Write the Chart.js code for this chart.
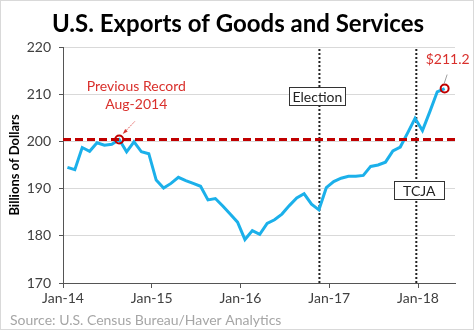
<!DOCTYPE html>
<html>
<head>
<meta charset="utf-8">
<script src="https://cdn.jsdelivr.net/npm/chart.js@4/dist/chart.umd.min.js"></script>
<style>
  body { margin: 0; background: #fff; }
  #wrap { width: 474px; height: 330px; }
</style>
</head>
<body>
<div id="wrap"><canvas id="chart" width="474" height="330"></canvas></div>
<script>
// monthly exports, Jan-2014 .. Apr-2018 (billions of dollars)
var exportValues = [
  194.5, 194.0, 198.7, 197.9, 199.7, 199.2, 199.4, 200.4, 197.8, 199.9, 197.8, 197.4,
  191.8, 190.1, 191.1, 192.4, 191.7, 191.1, 190.5, 187.6, 187.9, 186.3, 184.6, 182.9,
  179.2, 181.1, 180.3, 182.6, 183.4, 184.6, 186.4, 188.0, 188.9, 186.7, 185.5, 190.2,
  191.5, 192.2, 192.6, 192.6, 192.8, 194.7, 195.0, 195.6, 198.0, 198.8, 201.8, 204.9,
  202.3, 206.3, 210.5, 211.2
];
var tickLabels = ['Jan-14', 'Jan-15', 'Jan-16', 'Jan-17', 'Jan-18'];
var tickMonths = [0, 12, 24, 36, 48];
var recordIndex = 7;          // Aug-2014
var recordValue = 200.4;
var lastIndex = exportValues.length - 1;
var eventLabels = ['Election', 'TCJA'];
var eventMonths = [34.67, 47.77];

var FONT = 'Lato, "Open Sans", sans-serif';
var pointDay = 0.6; // points sit part-way through each month

var linePoints = exportValues.map(function (v, i) { return { x: i + pointDay, y: v }; });

function vLine(m) {
  return {
    data: [{ x: m, y: 170 }, { x: m, y: 220 }],
    borderColor: '#222', borderWidth: 2, borderDash: [2, 2],
    pointRadius: 0, order: 3
  };
}

// draws titles, source, labels and boxes
var textPlugin = {
  id: 'texts',
  afterDatasetsDraw: function (chart) {
    var ctx = chart.ctx;
    var xs = chart.scales.x, ys = chart.scales.y;
    ctx.save();

    // record label + arrow
    var rx = xs.getPixelForValue(recordIndex + pointDay);
    var ry = ys.getPixelForValue(recordValue);
    ctx.fillStyle = '#d9302c';
    ctx.font = '14px ' + FONT;
    ctx.textAlign = 'center';
    ctx.textBaseline = 'middle';
    ctx.fillText('Previous Record', rx + 17, ry - 53);
    ctx.fillText('Aug-2014', rx + 17, ry - 35);
    ctx.strokeStyle = '#d9302c';
    ctx.lineWidth = 0.8;
    ctx.setLineDash([1.5, 1]);
    ctx.beginPath();
    ctx.moveTo(rx + 15.5, ry - 18);
    ctx.lineTo(rx + 5, ry - 7);
    ctx.stroke();
    ctx.setLineDash([]);
    ctx.beginPath();
    ctx.moveTo(rx + 3.5, ry - 5.5);
    ctx.lineTo(rx + 8.5, ry - 8);
    ctx.lineTo(rx + 6, ry - 10.5);
    ctx.closePath();
    ctx.fill();

    // last value label
    var lx = xs.getPixelForValue(lastIndex + pointDay);
    var ly = ys.getPixelForValue(exportValues[lastIndex]);
    ctx.fillText('$' + exportValues[lastIndex].toFixed(1), lx + 3, ly - 29);
    ctx.strokeStyle = '#a0a0a0';
    ctx.lineWidth = 1;
    ctx.beginPath();
    ctx.moveTo(lx + 2.5, ly - 14);
    ctx.lineTo(lx - 0.5, ly - 5);
    ctx.stroke();

    // event boxes
    var boxY = [96, 190];
    var boxW = [56, 50];
    var boxDx = [-2, 3];
    ctx.font = '14px ' + FONT;
    for (var k = 0; k < eventLabels.length; k++) {
      var ex = xs.getPixelForValue(eventMonths[k]) + boxDx[k];
      ctx.fillStyle = '#fff';
      ctx.fillRect(ex - boxW[k] / 2, boxY[k] - 9, boxW[k], 18);
      ctx.strokeStyle = '#333';
      ctx.lineWidth = 1;
      ctx.strokeRect(Math.round(ex - boxW[k] / 2) + 0.5, boxY[k] - 8.5, boxW[k], 18);
      ctx.fillStyle = '#222';
      ctx.fillText(eventLabels[k], ex, boxY[k] + 1);
    }
    ctx.restore();
  },
  afterDraw: function (chart) {
    var ctx = chart.ctx;
    ctx.save();
    ctx.fillStyle = '#000';
    ctx.font = 'bold 24px ' + FONT;
    ctx.textAlign = 'center';
    ctx.textBaseline = 'middle';
    ctx.fillText('U.S. Exports of Goods and Services', 238, 24);
    ctx.fillStyle = '#a6a6a6';
    ctx.font = '14px ' + FONT;
    ctx.textAlign = 'left';
    ctx.fillText('Source: U.S. Census Bureau/Haver Analytics', 10, 320);
    ctx.strokeStyle = '#d9d9d9';
    ctx.lineWidth = 1;
    ctx.strokeRect(0.5, 0.5, 473, 329);
    ctx.restore();
  }
};

new Chart(document.getElementById('chart'), {
  type: 'line',
  data: {
    datasets: [
      {
        data: linePoints,
        borderColor: '#1bb0ea', borderWidth: 3,
        pointRadius: 0, tension: 0, order: 2
      },
      {
        data: [{ x: 0, y: recordValue }, { x: 53, y: recordValue }],
        borderColor: '#c00000', borderWidth: 3, borderDash: [8, 4],
        pointRadius: 0, order: 1
      },
      {
        data: [
          { x: recordIndex + pointDay, y: recordValue },
          { x: lastIndex + pointDay, y: exportValues[lastIndex] }
        ],
        showLine: false,
        pointRadius: 4, pointBorderWidth: 2,
        pointBorderColor: '#c00000', pointBackgroundColor: 'rgba(0,0,0,0)',
        order: 0
      },
      vLine(eventMonths[0]),
      vLine(eventMonths[1])
    ]
  },
  options: {
    responsive: false,
    animation: false,
    layout: { padding: { top: 47, left: 0, right: 19, bottom: 20 } },
    plugins: {
      legend: { display: false },
      tooltip: { enabled: false }
    },
    scales: {
      x: {
        type: 'linear', min: 0, max: 53,
        afterBuildTicks: function (scale) {
          scale.ticks = tickMonths.map(function (m) { return { value: m }; });
        },
        afterFit: function (scale) { scale.height = 27; },
        ticks: {
          color: '#404040', font: { family: FONT, size: 14 }, padding: 2,
          maxRotation: 0, autoSkip: false,
          callback: function (v) { return tickLabels[tickMonths.indexOf(v)]; }
        },
        grid: { drawOnChartArea: false, tickLength: 5, tickColor: '#555' },
        border: { color: '#555', width: 1 }
      },
      y: {
        min: 170, max: 220,
        afterFit: function (scale) { scale.width = 63; },
        ticks: {
          stepSize: 10, color: '#404040', font: { family: FONT, size: 14 }, padding: 8
        },
        grid: { color: '#d9d9d9', tickLength: 4, tickColor: '#555' },
        border: { color: '#555', width: 1 },
        title: {
          display: true, text: 'Billions of Dollars', color: '#000',
          font: { family: FONT, size: 13, weight: 'bold' },
          padding: { top: 7, bottom: 0 }
        }
      }
    }
  },
  plugins: [textPlugin]
});
</script>
</body>
</html>
